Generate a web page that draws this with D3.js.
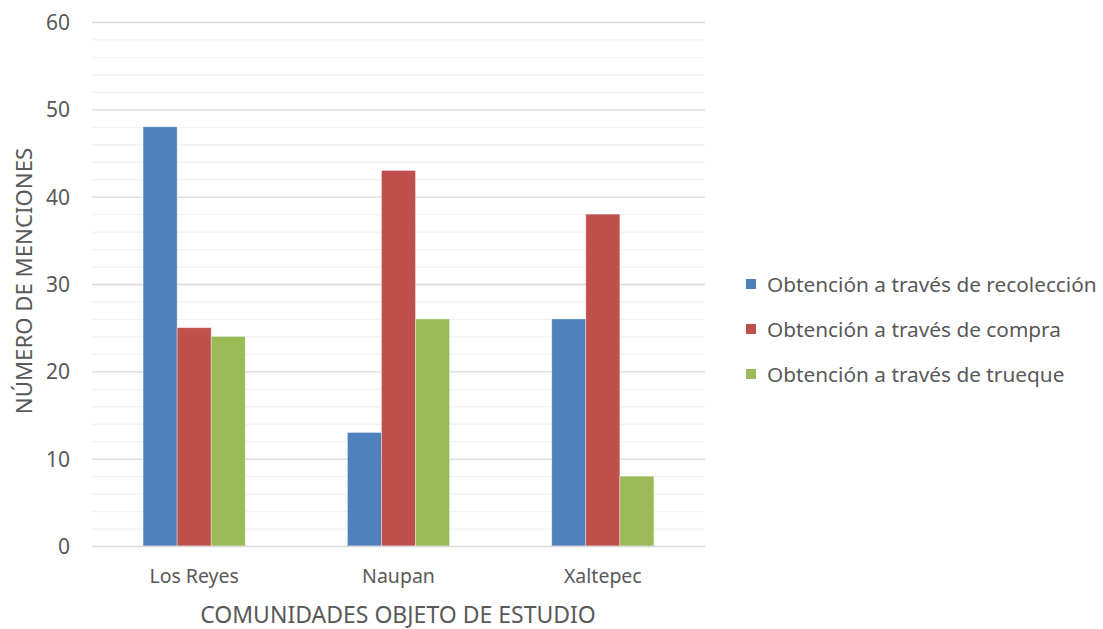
<!DOCTYPE html>
<html>
<head>
<meta charset="utf-8">
<script src="https://cdn.jsdelivr.net/npm/d3@7"></script>
<style>
  body { margin: 0; background: #fff; }
  svg { display: block; }
  svg text { font-family: "Noto Sans", sans-serif; }
</style>
</head>
<body>
<svg id="chart" width="1103" height="629"></svg>
<script>
// Communities and counts of mentions per way of obtaining
const categories = ["Los Reyes", "Naupan", "Xaltepec"];
const seriesNames = [
  "Obtención a través de recolección",
  "Obtención a través de compra",
  "Obtención a través de trueque"
];
const recoleccion = [48, 13, 26];
const compra = [25, 43, 38];
const trueque = [24, 26, 8];
const seriesColors = ["#4F81BD", "#C0504D", "#9BBB59"];
const yTicks = [0, 10, 20, 30, 40, 50, 60];
const yTitle = "NÚMERO DE MENCIONES";
const xTitle = "COMUNIDADES OBJETO DE ESTUDIO";

const seriesValues = [recoleccion, compra, trueque];
const rows = categories.map((c, i) => ({
  cat: c,
  vals: seriesValues.map((s, j) => ({ key: seriesNames[j], value: s[i], color: seriesColors[j] }))
}));

const svg = d3.select("#chart");
const plot = { left: 92, right: 705, top: 22, bottom: 546 };
const textColor = "#595959";

const x = d3.scaleBand().domain(categories).range([plot.left, plot.right]).paddingInner(0).paddingOuter(0);
const inner = d3.scaleBand().domain(seriesNames).range([0, x.bandwidth()]).paddingInner(0).paddingOuter(1.5);
const y = d3.scaleLinear().domain([0, 60]).range([plot.bottom, plot.top]);

// Minor gridlines every 2 units
const minor = d3.range(2, 60, 2).filter(v => v % 10 !== 0);
svg.append("g").selectAll("line").data(minor).join("line")
  .attr("x1", plot.left).attr("x2", plot.right)
  .attr("y1", d => y(d) + 0.5).attr("y2", d => y(d) + 0.5)
  .attr("stroke", "#F2F2F2").attr("stroke-width", 1.3);

// Major gridlines
svg.append("g").selectAll("line").data(yTicks.filter(v => v > 0)).join("line")
  .attr("x1", plot.left).attr("x2", plot.right)
  .attr("y1", d => y(d) + 0.5).attr("y2", d => y(d) + 0.5)
  .attr("stroke", "#D9D9D9").attr("stroke-width", 1.3);

// Bars
const groups = svg.append("g").selectAll("g").data(rows).join("g")
  .attr("transform", d => `translate(${x(d.cat)},0)`);
groups.selectAll("rect").data(d => d.vals).join("rect")
  .attr("x", d => inner(d.key))
  .attr("width", inner.bandwidth())
  .attr("y", d => y(d.value))
  .attr("height", d => y(0) - y(d.value))
  .attr("fill", d => d.color)
  .attr("stroke", "#ffffff").attr("stroke-opacity", 0.45).attr("stroke-width", 0.8);

// Baseline
svg.append("line")
  .attr("x1", plot.left).attr("x2", plot.right)
  .attr("y1", y(0) + 0.5).attr("y2", y(0) + 0.5)
  .attr("stroke", "#D9D9D9").attr("stroke-width", 1.3);

// Y axis labels
const yAxis = d3.axisLeft(y).tickValues(yTicks).tickSize(0).tickPadding(22);
const gy = svg.append("g").attr("transform", `translate(${plot.left},0)`).call(yAxis)
  .attr("font-family", null).attr("font-size", null);
gy.select(".domain").remove();
gy.selectAll("text").attr("fill", textColor).attr("font-size", 21).attr("dy", "0.36em");

// X axis labels
const xAxis = d3.axisBottom(x).tickSize(0).tickPadding(0);
const gx = svg.append("g").attr("transform", `translate(0,${plot.bottom})`).call(xAxis)
  .attr("font-family", null).attr("font-size", null);
gx.select(".domain").remove();
gx.selectAll("text").attr("fill", textColor).attr("font-size", 19.5).attr("y", 37).attr("dy", null);

// Axis titles
svg.append("text")
  .attr("transform", `translate(32,281) rotate(-90)`)
  .attr("text-anchor", "middle").attr("fill", textColor).attr("font-size", 22.2)
  .text(yTitle);
svg.append("text")
  .attr("x", 398).attr("y", 623)
  .attr("text-anchor", "middle").attr("fill", textColor).attr("font-size", 23)
  .text(xTitle);

// Legend
const legend = svg.append("g").selectAll("g").data(seriesNames).join("g")
  .attr("transform", (d, i) => `translate(746,${284 + i * 45})`);
legend.append("rect").attr("x", 0).attr("y", -5).attr("width", 10).attr("height", 10)
  .attr("fill", (d, i) => seriesColors[i]);
legend.append("text").attr("x", 21).attr("dy", "0.36em")
  .attr("fill", textColor).attr("font-size", 20.8).text(d => d);
</script>
</body>
</html>
